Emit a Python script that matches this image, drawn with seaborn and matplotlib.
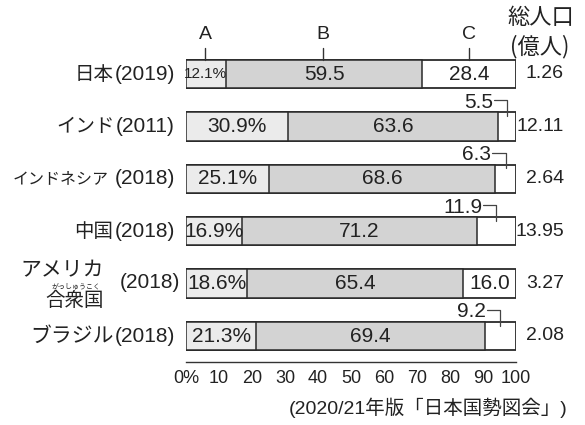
import matplotlib
matplotlib.use("Agg")
import matplotlib.pyplot as plt
import matplotlib.transforms as mtransforms
import seaborn as sns
import pandas as pd
from matplotlib import font_manager as fm

countries = ["日本(2019)", "インド(2011)", "インドネシア (2018)", "中国(2018)", "アメリカ合衆国(2018)", "ブラジル(2018)"]
name_jp = ["日本", "インド", "インドネシア", "中国", "アメリカ合衆国", "ブラジル"]
name_year = ["(2019)", "(2011)", "(2018)", "(2018)", "(2018)", "(2018)"]
A = [12.1, 30.9, 25.1, 16.9, 18.6, 21.3]
B = [59.5, 63.6, 68.6, 71.2, 65.4, 69.4]
C = [28.4, 5.5, 6.3, 11.9, 16.0, 9.2]
population = ["1.26", "12.11", "2.64", "13.95", "3.27", "2.08"]
c_inside = [True, False, False, False, True, False]
xticks = [0, 10, 20, 30, 40, 50, 60, 70, 80, 90, 100]
xticklabels = ["0%", "10", "20", "30", "40", "50", "60", "70", "80", "90", "100"]

sns.set_theme(style="white")
names = {f.name for f in fm.fontManager.ttflist}
num_font = "Liberation Sans Narrow" if "Liberation Sans Narrow" in names else "Liberation Sans"
FAM = [num_font, "Noto Sans CJK JP", "DejaVu Sans"]
JFAM = ["Noto Sans CJK JP", "DejaVu Sans"]
plt.rcParams["font.family"] = FAM

df = pd.DataFrame({"country": countries, "A": A, "B": B, "C": C})
df["AB"] = df["A"] + df["B"]
df["ABC"] = df["AB"] + df["C"]

fig = plt.figure(figsize=(5.85, 4.25), dpi=100)
ax = fig.add_axes([186/585, 1-362/425, 330/585, (362-55)/425])

edge = "#2a2a2a"
bw = 0.54
sns.barplot(data=df, y="country", x="ABC", orient="h", color="white", edgecolor=edge,
            linewidth=1.3, width=bw, ax=ax, saturation=1)
sns.barplot(data=df, y="country", x="AB", orient="h", color="#d3d3d3", edgecolor=edge,
            linewidth=1.1, width=bw, ax=ax, saturation=1)
sns.barplot(data=df, y="country", x="A", orient="h", color="#ebebeb", edgecolor=edge,
            linewidth=1.1, width=bw, ax=ax, saturation=1)

ax.set_xlim(0, 100)
ax.set_ylim(5 + 26/52.4, -19/52.4)
ax.set_xlabel("")
ax.set_ylabel("")
ax.set_yticks([])
ax.set_xticks(xticks)
ax.set_xticklabels(xticklabels, fontsize=13, family=FAM)
ax.tick_params(axis="x", direction="out", length=4, width=1, color="#333333", pad=2, colors="#222222")
for s in ["top", "right", "left"]:
    ax.spines[s].set_visible(False)
ax.spines["bottom"].set_color("#333333")
ax.spines["bottom"].set_linewidth(1)
ax.spines["bottom"].set_bounds(0, 100)

tc = "#222222"
num_fs = 15
for i in range(len(countries)):
    a, b, c = A[i], B[i], C[i]
    if i == 0:
        ax.text(a/2 - 0.2, i, f"{a}%", ha="center", va="center", fontsize=11, color=tc, family=FAM)
    else:
        ax.text(a/2, i, f"{a}%", ha="center", va="center", fontsize=num_fs, color=tc, family=FAM)
    ax.text(a + b/2, i, f"{b}", ha="center", va="center", fontsize=num_fs, color=tc, family=FAM)
    cc = a + b + c/2
    if c_inside[i]:
        ax.text(cc, i, f"{c}", ha="center", va="center", fontsize=num_fs, color=tc, family=FAM)
    else:
        ax.text(cc - 4.3, i - 0.46, f"{c}", ha="right", va="center", fontsize=num_fs, color=tc, family=FAM)
        ax.plot([cc - 4.0, cc, cc], [i - 0.5, i - 0.5, i - 0.2], color="#444444", lw=0.9, clip_on=False)
    ax.text(114.5, i, population[i], ha="right", va="center", fontsize=14, color=tc, family=FAM)

# country labels: year part then Japanese part to its left
fig.canvas.draw()
renderer = fig.canvas.get_renderer()
jp_sizes = [14, 14, 11.5, 14, 14, 15]
for i in range(len(countries)):
    if i == 4:
        continue
    t = ax.text(-3.4, i, name_year[i], ha="right", va="center", fontsize=15, color=tc, family=FAM)
    w = t.get_window_extent(renderer).width
    gap = 6 if i == 2 else 1
    tr = ax.transData + mtransforms.ScaledTranslation(-(w + gap) / 100, 0, fig.dpi_scale_trans)
    ax.text(-3.4, i, name_jp[i], ha="right", va="center", fontsize=jp_sizes[i], color=tc,
            family=JFAM, transform=tr)
# USA special label
ax.text(-1.8, 4 - 0.02, name_year[4], ha="right", va="center", fontsize=15, color=tc, family=FAM)
ax.text(-25.0, 4 - 0.25, "アメリカ", ha="right", va="center", fontsize=15, color=tc, family=JFAM)
ax.text(-25.8, 4 + 0.06, "がっしゅうこく", ha="right", va="center", fontsize=5, color=tc, family=JFAM)
ax.text(-25.0, 4 + 0.32, "合衆国", ha="right", va="center", fontsize=14, color=tc, family=JFAM)

# A/B/C pointers
for lab, xpos in [("A", 5.8), ("B", 41.5), ("C", 85.8)]:
    ax.text(xpos, -0.75, lab, ha="center", va="center", fontsize=14, color=tc, family=FAM)
    ax.plot([xpos, xpos], [-0.5, -0.27], color="#333333", lw=1, clip_on=False)

# header
fig.text(541/585, 1-18/425, "総人口", ha="center", va="center", fontsize=16, color=tc, family=JFAM)
fig.text(540/585, 1-47/425, "(億人)", ha="center", va="center", fontsize=16, color=tc, family=JFAM)

# source
fig.text(567/585, 1-408/425, "(2020/21年版「日本国勢図会」)", ha="right", va="center",
         fontsize=14, color=tc, family=FAM)

fig.savefig("out.png", dpi=100)
